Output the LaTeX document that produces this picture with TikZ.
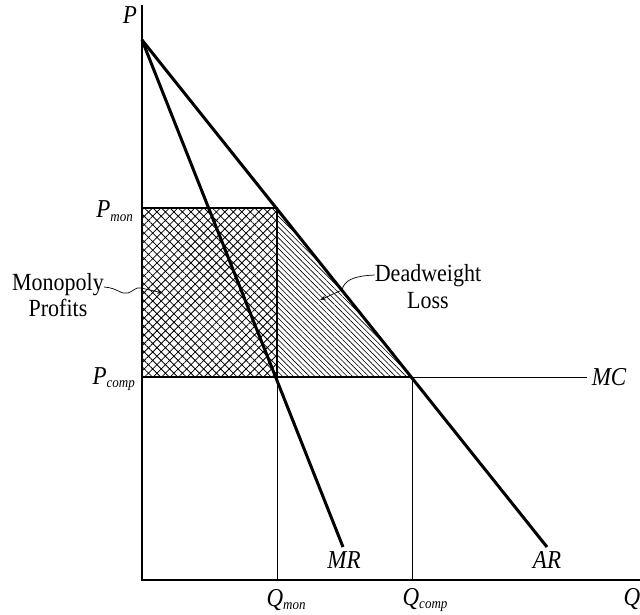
\documentclass[tikz,border=0pt]{standalone}
\usepackage{fontspec}
\setmainfont{Liberation Serif}
\usetikzlibrary{patterns.meta,arrows.meta}
\newcommand\lowsub[1]{\raisebox{-3pt}{\fontsize{13}{13}\selectfont #1}}
\newcommand\tallbox[1]{\scalebox{1}[1.12]{#1}}
\begin{document}
\begin{tikzpicture}[x=1pt,y=-1pt,
  axis/.style={line width=1.1pt},
  curve/.style={line width=3pt},
  guide/.style={line width=1pt},
  boxline/.style={line width=1.4pt},
  lab/.style={font=\fontsize{23}{26}\selectfont\itshape, inner sep=0pt},
  txt/.style={font=\fontsize{22}{25}\selectfont, inner sep=0pt},
  lead/.style={line width=0.7pt,-{Stealth[length=6pt,width=4pt]}}]
\useasboundingbox (0,0) rectangle (640,615);
% key points
\coordinate (O) at (142,580);
\coordinate (Ytop) at (142,5);
\coordinate (Xend) at (640,580);
\coordinate (A) at (142,40);
\coordinate (ARend) at (547,547);
\coordinate (MRend) at (343,547);
\coordinate (Pm) at (142,208);
\coordinate (M) at (277,208);
\coordinate (E) at (277,377);
\coordinate (C) at (412,377);
\coordinate (Pc) at (142,377);
\coordinate (MCend) at (587,377);
\coordinate (Qm) at (277,580);
\coordinate (Qc) at (412,580);
% areas
\fill[pattern={Hatch[angle=45,distance=6pt,line width=0.8pt]}] (Pm) rectangle (E);
\fill[pattern={Lines[angle=-45,distance=3.8pt,line width=0.65pt]}] (M) -- (C) -- (E) -- cycle;
% axes
\draw[axis] (Ytop) -- (O) -- (Xend);
% guides
\draw[boxline] (Pm) -- (M) -- (E);
\draw[guide] (E) -- (Qm);
\draw[guide] (C) -- (Qc);
\draw[boxline] (Pc) -- (C);
\draw[guide] (C) -- (MCend);
% curves
\draw[curve] (A) -- (ARend);
\draw[curve] (A) -- (MRend);
% labels
\node[lab] (lP) at (130,15) {\tallbox{P}};
\node[lab,anchor=east] (lPm) at (133,211) {\tallbox{P\lowsub{mon}}};
\node[lab,anchor=east] (lPc) at (135,379) {\tallbox{P\lowsub{comp}}};
\node[lab] (lQm) at (286,600) {\tallbox{Q\lowsub{mon}}};
\node[lab] (lQc) at (425,600) {\tallbox{Q\lowsub{comp}}};
\node[lab] (lQ) at (632,599) {\tallbox{Q}};
\node[lab] (lMC) at (609,377) {\tallbox{MC}};
\node[lab] (lMR) at (344,560) {\tallbox{MR}};
\node[lab] (lAR) at (547,560) {\tallbox{AR}};
\node[txt] (mp) at (58,298) {\tallbox{\begin{tabular}{@{}c@{}}Monopoly\\[-2pt]Profits\end{tabular}}};
\node[txt] (dw) at (428,289) {\tallbox{\begin{tabular}{@{}c@{}}Deadweight\\[-1pt]Loss\end{tabular}}};
\coordinate (mpT) at (163,293);
\coordinate (dwT) at (320,300);
\draw[lead] (mp.east |- 0,287) .. controls (118,288) and (121,295) .. (128,293)
  .. controls (134,291) and (135,287) .. (141,288) -- (mpT);
\draw[lead] (dw.west |- 0,275) .. controls (352,276) and (344,281) .. (342,290) -- (dwT);
\end{tikzpicture}
\end{document}
